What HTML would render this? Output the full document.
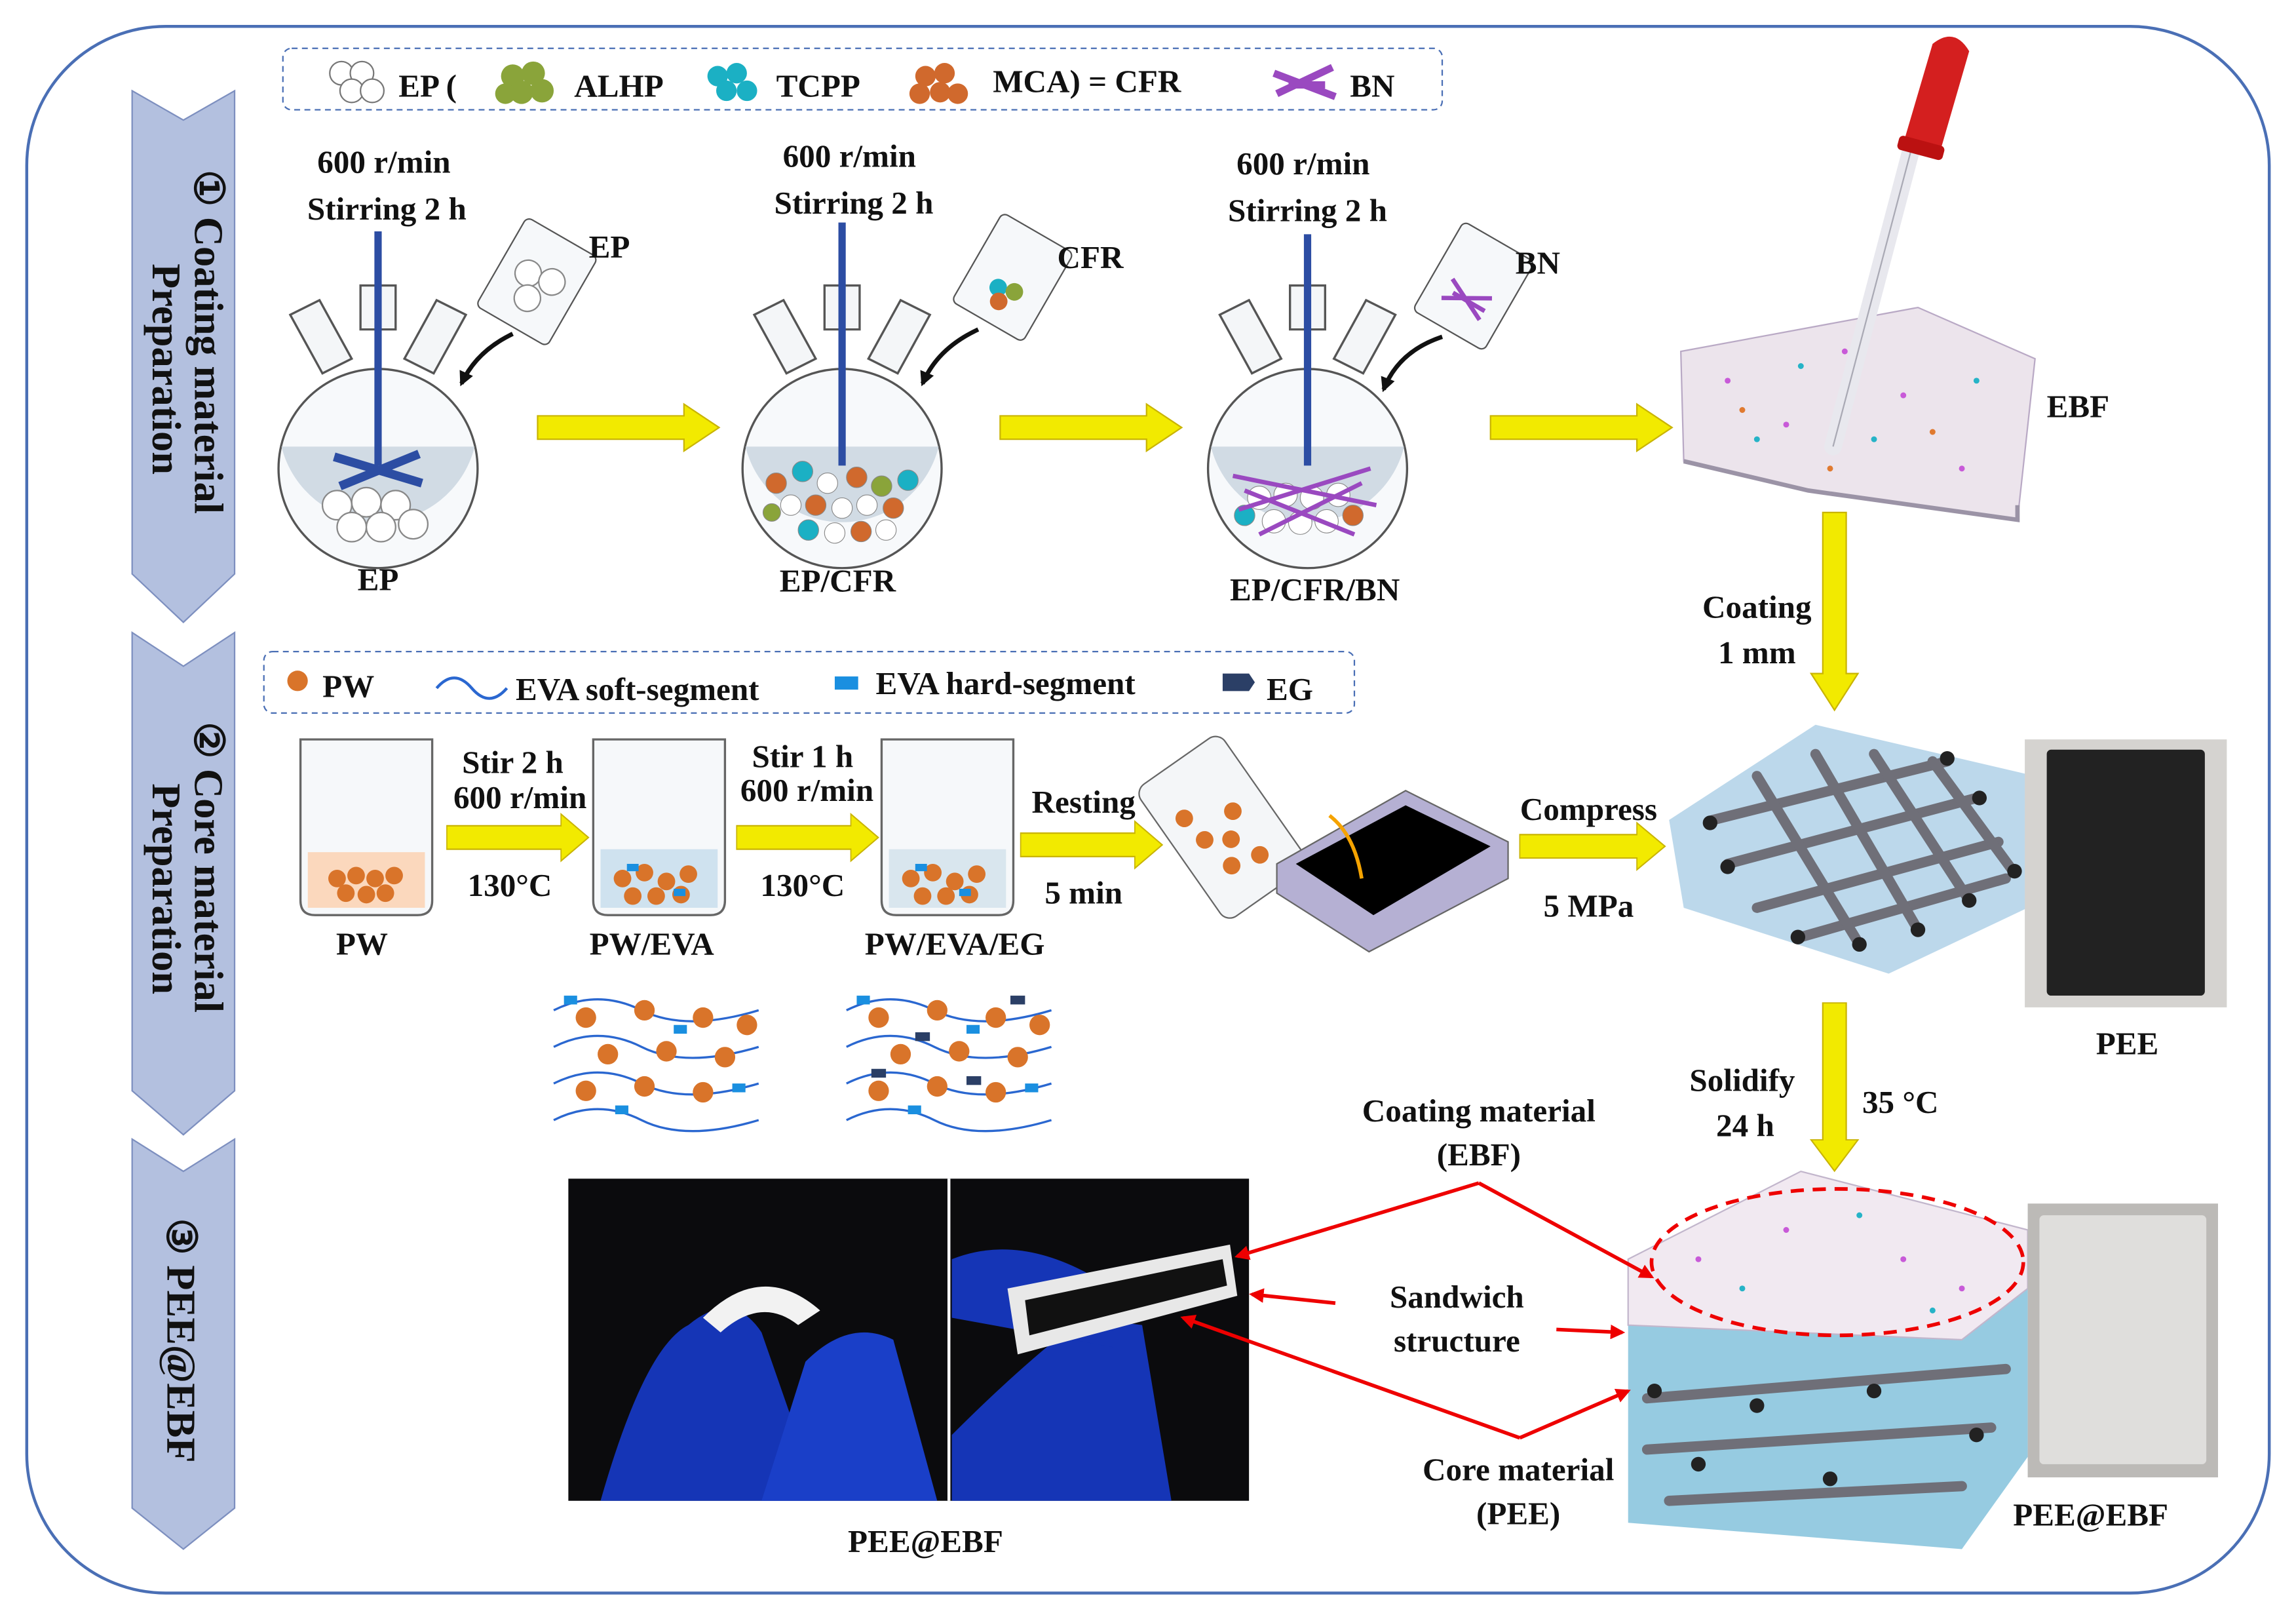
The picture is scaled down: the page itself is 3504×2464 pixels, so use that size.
<!DOCTYPE html>
<html><head><meta charset="utf-8"><style>
html,body{margin:0;padding:0;background:#fff;}
svg{display:block;}
text{font-family:"Liberation Serif",serif;font-weight:bold;fill:#111;}
</style></head><body>
<svg width="3504" height="2464" viewBox="0 0 1568 1103" xmlns="http://www.w3.org/2000/svg">
<defs>
<marker id="ra" markerWidth="10" markerHeight="10" refX="8" refY="5" orient="auto" markerUnits="userSpaceOnUse"><path d="M0,0 L10,5 L0,10 z" fill="#e00"/></marker>
<marker id="ka" markerWidth="10" markerHeight="10" refX="8" refY="5" orient="auto" markerUnits="userSpaceOnUse"><path d="M0,0 L10,5 L0,10 z" fill="#111"/></marker>
<g id="yar"><path d="M0,-8 L100,-8 L100,-16 L124,0 L100,16 L100,8 L0,8 z" fill="#f2ea00" stroke="#c9b400" stroke-width="1"/></g>
<g id="yarv"><path d="M-8,0 L-8,110 L-16,110 L0,135 L16,110 L8,110 L8,0 z" fill="#f2ea00" stroke="#c9b400" stroke-width="1"/></g>
<g id="flask">
 <path d="M-12,-125 h24 v30 h-24z M-60,-105 l20,-10 l22,40 l-20,10z M60,-105 l-20,-10 l-22,40 l20,10z" fill="#f4f6f8" stroke="#555" stroke-width="1.5"/>
 <circle cx="0" cy="0" r="68" fill="#f7f9fb" stroke="#555" stroke-width="1.5"/>
 <path d="M-66,-15 A68,68 0 0,0 66,-15 z" fill="#c7d3de" opacity="0.8"/>
</g>
<g id="beaker"><path d="M0,0 h90 v110 q0,10 -10,10 h-70 q-10,0 -10,-10z" fill="#f6f8fa" stroke="#666" stroke-width="1.5"/></g>
</defs>

<rect x="18" y="18" width="1532" height="1070" rx="95" fill="#fff" stroke="#4a6fb5" stroke-width="2"/>

<path d="M90,62 L125,82 L160,62 L160,392 L125,425 L90,392 z" fill="#b3c0df" stroke="#7d8fbf"/>
<path d="M90,432 L125,455 L160,432 L160,745 L125,775 L90,745 z" fill="#b3c0df" stroke="#7d8fbf"/>
<path d="M90,778 L125,800 L160,778 L160,1030 L125,1058 L90,1030 z" fill="#b3c0df" stroke="#7d8fbf"/>
<text transform="translate(133,116) rotate(90)" font-size="28">① Coating material</text>
<text transform="translate(104,180) rotate(90)" font-size="28">Preparation</text>
<text transform="translate(133,493) rotate(90)" font-size="28">② Core material</text>
<text transform="translate(104,535) rotate(90)" font-size="28">Preparation</text>
<text transform="translate(114,832) rotate(90)" font-size="28">③ PEE@EBF</text>

<rect x="193" y="33" width="792" height="42" rx="6" fill="none" stroke="#4a6fb5" stroke-dasharray="4,3"/>
<g fill="#fff" stroke="#777"><circle cx="233" cy="50" r="8"/><circle cx="247" cy="50" r="8"/><circle cx="240" cy="62" r="8"/><circle cx="254" cy="62" r="8"/></g>
<text x="272" y="66" font-size="22">EP  (</text>
<g fill="#8aa43a"><circle cx="350" cy="52" r="8"/><circle cx="364" cy="50" r="8"/><circle cx="356" cy="63" r="8"/><circle cx="370" cy="62" r="8"/><circle cx="345" cy="64" r="7"/></g>
<text x="392" y="66" font-size="22">ALHP</text>
<g fill="#1bb0c4"><circle cx="490" cy="52" r="7"/><circle cx="503" cy="50" r="7"/><circle cx="496" cy="62" r="7"/><circle cx="510" cy="62" r="7"/></g>
<text x="530" y="66" font-size="22">TCPP</text>
<g fill="#d0692d"><circle cx="632" cy="52" r="7"/><circle cx="645" cy="50" r="7"/><circle cx="628" cy="64" r="7"/><circle cx="642" cy="63" r="7"/><circle cx="654" cy="64" r="7"/></g>
<text x="678" y="63" font-size="22">MCA) = CFR</text>
<path d="M870,50 L912,66 M872,64 L910,46 M880,58 L905,58" stroke="#9a49c0" stroke-width="5"/>
<text x="922" y="66" font-size="22">BN</text>

<use href="#flask" x="258" y="320"/>
<use href="#flask" x="575" y="320"/>
<use href="#flask" x="893" y="320"/>
<line x1="258" y1="158" x2="258" y2="318" stroke="#2c4da3" stroke-width="5"/>
<path d="M228,312 L288,330 M232,332 L286,310" stroke="#2c4da3" stroke-width="6"/>
<g fill="#fff" stroke="#888"><circle cx="230" cy="345" r="10"/><circle cx="250" cy="343" r="10"/><circle cx="270" cy="345" r="10"/><circle cx="240" cy="360" r="10"/><circle cx="260" cy="360" r="10"/><circle cx="282" cy="358" r="10"/></g>
<line x1="575" y1="152" x2="575" y2="318" stroke="#2c4da3" stroke-width="5"/>
<g stroke="#888" stroke-width="0.5">
<circle cx="530" cy="330" r="7" fill="#d0692d"/><circle cx="548" cy="322" r="7" fill="#1bb0c4"/><circle cx="565" cy="330" r="7" fill="#fff"/><circle cx="585" cy="326" r="7" fill="#d0692d"/><circle cx="602" cy="332" r="7" fill="#8aa43a"/><circle cx="620" cy="328" r="7" fill="#1bb0c4"/>
<circle cx="540" cy="345" r="7" fill="#fff"/><circle cx="557" cy="345" r="7" fill="#d0692d"/><circle cx="575" cy="347" r="7" fill="#fff"/><circle cx="592" cy="345" r="7" fill="#fff"/><circle cx="610" cy="347" r="7" fill="#d0692d"/><circle cx="527" cy="350" r="6" fill="#8aa43a"/>
<circle cx="552" cy="362" r="7" fill="#1bb0c4"/><circle cx="570" cy="364" r="7" fill="#fff"/><circle cx="588" cy="363" r="7" fill="#d0692d"/><circle cx="605" cy="362" r="7" fill="#fff"/>
</g>
<line x1="893" y1="160" x2="893" y2="318" stroke="#2c4da3" stroke-width="5"/>
<g stroke="#888" stroke-width="0.5">
<circle cx="860" cy="340" r="8" fill="#fff"/><circle cx="878" cy="338" r="8" fill="#fff"/><circle cx="896" cy="340" r="8" fill="#fff"/><circle cx="914" cy="338" r="8" fill="#fff"/><circle cx="870" cy="356" r="8" fill="#fff"/><circle cx="888" cy="357" r="8" fill="#fff"/><circle cx="906" cy="356" r="8" fill="#fff"/><circle cx="924" cy="352" r="7" fill="#d0692d"/><circle cx="850" cy="352" r="7" fill="#1bb0c4"/>
</g>
<path d="M842,325 L940,345 M846,348 L936,320 M860,365 L930,330 M850,335 L925,365" stroke="#9a49c0" stroke-width="3"/>

<g transform="translate(365,195) rotate(30)"><rect x="-28" y="-38" width="56" height="70" rx="4" fill="#f6f8fa" stroke="#555"/><circle cx="-8" cy="-5" r="9" fill="#fff" stroke="#888"/><circle cx="9" cy="-8" r="9" fill="#fff" stroke="#888"/><circle cx="0" cy="10" r="9" fill="#fff" stroke="#888"/></g>
<g transform="translate(690,192) rotate(30)"><rect x="-28" y="-38" width="56" height="70" rx="4" fill="#f6f8fa" stroke="#555"/><circle cx="-5" cy="8" r="6" fill="#1bb0c4"/><circle cx="6" cy="5" r="6" fill="#8aa43a"/><circle cx="0" cy="16" r="6" fill="#d0692d"/></g>
<g transform="translate(1005,198) rotate(30)"><rect x="-28" y="-38" width="56" height="70" rx="4" fill="#f6f8fa" stroke="#555"/><path d="M-15,0 L15,15 M-15,15 L15,-2 M-10,8 L15,8" stroke="#9a49c0" stroke-width="3"/></g>
<path d="M350,228 Q325,240 315,262" fill="none" stroke="#111" stroke-width="3" marker-end="url(#ka)"/>
<path d="M668,225 Q640,238 630,262" fill="none" stroke="#111" stroke-width="3" marker-end="url(#ka)"/>
<path d="M985,230 Q955,240 945,266" fill="none" stroke="#111" stroke-width="3" marker-end="url(#ka)"/>
<text x="402" y="176" font-size="22">EP</text>
<text x="722" y="183" font-size="22">CFR</text>
<text x="1035" y="187" font-size="22">BN</text>

<g font-size="22" text-anchor="middle">
<text x="262" y="118">600 r/min</text><text x="264" y="150">Stirring 2 h</text>
<text x="580" y="114">600 r/min</text><text x="583" y="146">Stirring 2 h</text>
<text x="890" y="119">600 r/min</text><text x="893" y="151">Stirring 2 h</text>
<text x="258" y="403">EP</text><text x="572" y="404">EP/CFR</text><text x="898" y="410">EP/CFR/BN</text>
</g>

<use href="#yar" x="367" y="292"/><use href="#yar" x="683" y="292"/><use href="#yar" x="1018" y="292"/>

<path d="M1148,240 L1310,210 L1390,245 L1378,355 L1235,335 L1150,315 z" fill="#ece4ec" stroke="#b9a9c5"/>
<path d="M1150,315 L1235,335 L1378,355 L1378,345" fill="none" stroke="#9b93a6" stroke-width="3"/>
<g fill="#c85ad8"><circle cx="1180" cy="260" r="2"/><circle cx="1220" cy="290" r="2"/><circle cx="1300" cy="270" r="2"/><circle cx="1340" cy="320" r="2"/><circle cx="1260" cy="240" r="2"/></g>
<g fill="#26b3c7"><circle cx="1200" cy="300" r="2"/><circle cx="1280" cy="300" r="2"/><circle cx="1350" cy="260" r="2"/><circle cx="1230" cy="250" r="2"/></g>
<g fill="#e07a30"><circle cx="1190" cy="280" r="2"/><circle cx="1320" cy="295" r="2"/><circle cx="1250" cy="320" r="2"/></g>
<path d="M1252,305 L1306,100" stroke="#e8e8ee" stroke-width="12" stroke-linecap="round"/>
<path d="M1252,305 L1306,100" stroke="#a9a9b4" stroke-width="1"/>
<path d="M1300,98 L1320,30 Q1335,18 1345,35 L1325,104 z" fill="#d41f1f"/>
<rect x="1296" y="96" width="32" height="10" rx="3" fill="#b11" transform="rotate(15 1312 101)"/>
<text x="1398" y="285" font-size="22">EBF</text>

<use href="#yarv" x="1253" y="350"/>
<text x="1200" y="422" font-size="22" text-anchor="middle">Coating</text>
<text x="1200" y="453" font-size="22" text-anchor="middle">1 mm</text>

<rect x="180" y="445" width="745" height="42" rx="6" fill="none" stroke="#4a6fb5" stroke-dasharray="4,3"/>
<circle cx="203" cy="465" r="7" fill="#d9742a"/>
<text x="220" y="476" font-size="22">PW</text>
<path d="M298,470 q12,-14 24,0 t24,0" fill="none" stroke="#2a67d0" stroke-width="2"/>
<text x="352" y="478" font-size="22">EVA soft-segment</text>
<rect x="570" y="462" width="16" height="9" fill="#1a8fe0"/>
<text x="598" y="474" font-size="22">EVA hard-segment</text>
<path d="M835,460 h18 l4,6 l-4,6 h-18z" fill="#2b3f66"/>
<text x="865" y="478" font-size="22">EG</text>

<use href="#beaker" x="205" y="505"/>
<use href="#beaker" x="405" y="505"/>
<use href="#beaker" x="602" y="505"/>
<rect x="210" y="582" width="80" height="38" fill="#fbd8bd"/>
<g fill="#d9742a"><circle cx="230" cy="600" r="6"/><circle cx="243" cy="598" r="6"/><circle cx="256" cy="600" r="6"/><circle cx="269" cy="598" r="6"/><circle cx="236" cy="610" r="6"/><circle cx="250" cy="611" r="6"/><circle cx="263" cy="610" r="6"/></g>
<rect x="410" y="580" width="80" height="40" fill="#cfe2ef"/>
<g fill="#d9742a"><circle cx="425" cy="600" r="6"/><circle cx="440" cy="596" r="6"/><circle cx="455" cy="602" r="6"/><circle cx="470" cy="597" r="6"/><circle cx="432" cy="612" r="6"/><circle cx="448" cy="612" r="6"/><circle cx="465" cy="611" r="6"/></g>
<rect x="607" y="580" width="80" height="40" fill="#d9e6ee"/>
<g fill="#d9742a"><circle cx="622" cy="600" r="6"/><circle cx="637" cy="596" r="6"/><circle cx="652" cy="602" r="6"/><circle cx="667" cy="597" r="6"/><circle cx="630" cy="612" r="6"/><circle cx="646" cy="612" r="6"/><circle cx="662" cy="611" r="6"/></g>
<g fill="#1a8fe0"><rect x="428" y="590" width="8" height="5"/><rect x="460" y="607" width="8" height="5"/><rect x="625" y="590" width="8" height="5"/><rect x="655" y="607" width="8" height="5"/></g>

<g font-size="22" text-anchor="middle">
<text x="350" y="528">Stir 2 h</text><text x="355" y="552">600 r/min</text><text x="348" y="612">130°C</text>
<text x="548" y="524">Stir 1 h</text><text x="551" y="547">600 r/min</text><text x="548" y="612">130°C</text>
<text x="740" y="555">Resting</text><text x="740" y="617">5 min</text>
<text x="1085" y="560">Compress</text><text x="1085" y="626">5 MPa</text>
<text x="247" y="652">PW</text><text x="445" y="652">PW/EVA</text><text x="652" y="652">PW/EVA/EG</text>
</g>
<use href="#yar" x="305" y="572" transform="translate(305,572) scale(0.78,1) translate(-305,-572)"/>
<use href="#yar" x="503" y="572" transform="translate(503,572) scale(0.78,1) translate(-503,-572)"/>
<use href="#yar" x="697" y="577" transform="translate(697,577) scale(0.78,1) translate(-697,-577)"/>
<use href="#yar" x="1038" y="578" transform="translate(1038,578) scale(0.8,1) translate(-1038,-578)"/>

<g transform="translate(835,565) rotate(-35)"><rect x="-35" y="-55" width="70" height="110" rx="8" fill="#f4f6f8" stroke="#666"/>
<g fill="#d9742a"><circle cx="-15" cy="0" r="6"/><circle cx="0" cy="10" r="6"/><circle cx="12" cy="-5" r="6"/><circle cx="-10" cy="25" r="6"/><circle cx="10" cy="30" r="6"/><circle cx="-18" cy="-20" r="6"/></g></g>
<path d="M872,590 L960,540 L1030,575 L1030,600 L935,650 L872,610 z" fill="#b5b0d3" stroke="#666"/>
<path d="M885,590 L960,550 L1018,578 L938,625 z" fill="#000"/>
<path d="M908,557 Q925,570 930,600" fill="none" stroke="#f5a300" stroke-width="2.5"/>

<path d="M1140,560 L1240,495 L1390,530 L1385,620 L1290,665 L1150,620 z" fill="#9fc7e2" opacity="0.7"/>
<g stroke="#6f6f78" stroke-width="7" fill="none" stroke-linecap="round">
<path d="M1170,560 L1330,520 M1180,590 L1350,545 M1200,620 L1365,575 M1230,640 L1370,600"/>
<path d="M1200,530 L1270,645 M1240,515 L1310,635 M1280,515 L1345,615 M1320,520 L1375,595"/>
</g>
<g fill="#222"><circle cx="1168" cy="562" r="5"/><circle cx="1330" cy="518" r="5"/><circle cx="1180" cy="592" r="5"/><circle cx="1352" cy="545" r="5"/><circle cx="1270" cy="645" r="5"/><circle cx="1310" cy="635" r="5"/><circle cx="1345" cy="615" r="5"/><circle cx="1228" cy="640" r="5"/><circle cx="1376" cy="595" r="5"/></g>
<rect x="1383" y="505" width="138" height="183" fill="#d5d3d0"/>
<rect x="1398" y="512" width="108" height="168" rx="3" fill="#222"/>
<text x="1453" y="720" font-size="22" text-anchor="middle">PEE</text>

<use href="#yarv" x="1253" y="685" transform="translate(1253,685) scale(1,0.85) translate(-1253,-685)"/>
<text x="1190" y="745" font-size="22" text-anchor="middle">Solidify</text>
<text x="1192" y="776" font-size="22" text-anchor="middle">24 h</text>
<text x="1298" y="760" font-size="22" text-anchor="middle">35 °C</text>

<g stroke="#2a67d0" stroke-width="1.5" fill="none">
<path d="M378,690 q30,-15 60,0 t80,0 M378,715 q30,-15 60,0 t80,0 M378,740 q30,-15 60,0 t80,0 M378,765 q30,-15 60,0 t80,0"/>
<path d="M578,690 q30,-15 60,0 t80,0 M578,715 q30,-15 60,0 t80,0 M578,740 q30,-15 60,0 t80,0 M578,765 q30,-15 60,0 t80,0"/>
</g>
<g fill="#d9742a">
<circle cx="400" cy="695" r="7"/><circle cx="440" cy="690" r="7"/><circle cx="480" cy="695" r="7"/><circle cx="510" cy="700" r="7"/>
<circle cx="415" cy="720" r="7"/><circle cx="455" cy="718" r="7"/><circle cx="495" cy="722" r="7"/>
<circle cx="400" cy="745" r="7"/><circle cx="440" cy="742" r="7"/><circle cx="480" cy="746" r="7"/>
<circle cx="600" cy="695" r="7"/><circle cx="640" cy="690" r="7"/><circle cx="680" cy="695" r="7"/><circle cx="710" cy="700" r="7"/>
<circle cx="615" cy="720" r="7"/><circle cx="655" cy="718" r="7"/><circle cx="695" cy="722" r="7"/>
<circle cx="600" cy="745" r="7"/><circle cx="640" cy="742" r="7"/><circle cx="680" cy="746" r="7"/>
</g>
<g fill="#1a8fe0"><rect x="385" y="680" width="9" height="6"/><rect x="460" y="700" width="9" height="6"/><rect x="420" y="755" width="9" height="6"/><rect x="500" y="740" width="9" height="6"/><rect x="585" y="680" width="9" height="6"/><rect x="660" y="700" width="9" height="6"/><rect x="620" y="755" width="9" height="6"/><rect x="700" y="740" width="9" height="6"/></g>
<g fill="#2b3f66"><rect x="625" y="705" width="10" height="6"/><rect x="690" y="680" width="10" height="6"/><rect x="660" y="735" width="10" height="6"/><rect x="595" y="730" width="10" height="6"/></g>

<rect x="388" y="805" width="465" height="220" fill="#0b0b0d"/>
<line x1="648" y1="805" x2="648" y2="1025" stroke="#fff" stroke-width="2"/>
<path d="M410,1025 Q440,920 470,905 Q500,880 520,910 L560,1025 z" fill="#1535b6"/>
<path d="M520,1025 L550,930 Q580,900 610,915 L640,1025 z" fill="#1a3fc8"/>
<path d="M480,900 Q520,860 560,895 L545,905 Q520,885 492,910 z" fill="#f2f2f2"/>
<path d="M650,980 Q700,930 740,900 L780,905 L800,1025 L650,1025 z" fill="#1535b6"/>
<path d="M650,860 Q700,840 760,880 L760,920 L650,900 z" fill="#1535b6"/>
<path d="M688,880 L840,850 L845,885 L695,925 z" fill="#e8e8e8"/>
<path d="M700,888 L835,860 L838,878 L703,912 z" fill="#111"/>
<text x="632" y="1060" font-size="22" text-anchor="middle">PEE@EBF</text>

<path d="M1112,905 L1112,1040 L1340,1058 L1385,995 L1385,880 z" fill="#3fa0c8" opacity="0.55"/>
<g stroke="#6f6f78" stroke-width="7" fill="none" stroke-linecap="round">
<path d="M1125,955 L1370,935 M1125,990 L1360,975 M1140,1025 L1340,1015"/>
</g>
<g fill="#222"><circle cx="1130" cy="950" r="5"/><circle cx="1200" cy="960" r="5"/><circle cx="1280" cy="950" r="5"/><circle cx="1350" cy="980" r="5"/><circle cx="1160" cy="1000" r="5"/><circle cx="1250" cy="1010" r="5"/></g>
<path d="M1112,860 L1230,800 L1385,840 L1385,880 L1340,915 L1112,905 z" fill="#f1e9f1" stroke="#c2b6cc"/>
<g fill="#c85ad8"><circle cx="1160" cy="860" r="2"/><circle cx="1220" cy="840" r="2"/><circle cx="1300" cy="860" r="2"/><circle cx="1340" cy="880" r="2"/></g>
<g fill="#26b3c7"><circle cx="1190" cy="880" r="2"/><circle cx="1270" cy="830" r="2"/><circle cx="1320" cy="895" r="2"/></g>
<ellipse cx="1255" cy="862" rx="127" ry="50" fill="none" stroke="#e00" stroke-width="2.5" stroke-dasharray="9,6"/>
<rect x="1385" y="822" width="130" height="187" fill="#bcbab7"/>
<rect x="1393" y="830" width="114" height="170" rx="3" fill="#dfdedc"/>
<text x="1428" y="1042" font-size="22" text-anchor="middle">PEE@EBF</text>

<g font-size="22" text-anchor="middle">
<text x="1010" y="766">Coating  material</text><text x="1010" y="796">(EBF)</text>
<text x="995" y="893">Sandwich</text><text x="995" y="923">structure</text>
<text x="1037" y="1011">Core material</text><text x="1037" y="1041">(PEE)</text>
</g>
<g stroke="#e00" stroke-width="2.5" fill="none">
<path d="M1010,808 L845,858" marker-end="url(#ra)"/>
<path d="M1010,808 L1128,872" marker-end="url(#ra)"/>
<path d="M912,890 L855,884" marker-end="url(#ra)"/>
<path d="M1063,908 L1108,910" marker-end="url(#ra)"/>
<path d="M1038,982 L808,900" marker-end="url(#ra)"/>
<path d="M1038,982 L1112,950" marker-end="url(#ra)"/>
</g>
</svg>
</body></html>
